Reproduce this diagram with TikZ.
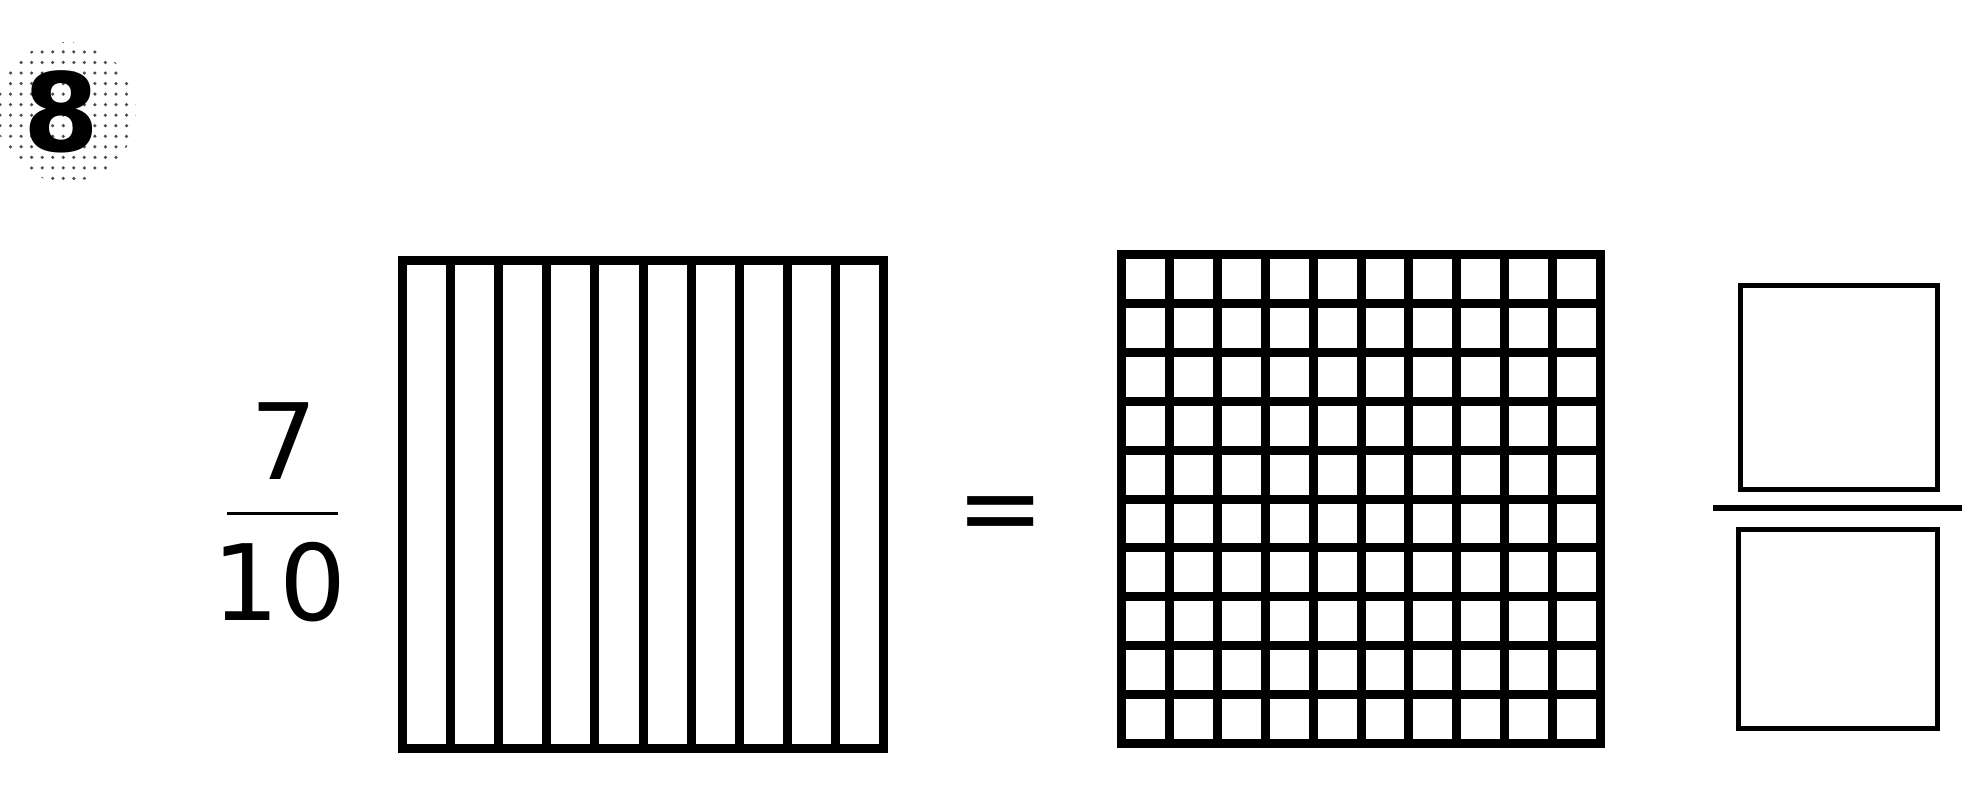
\documentclass[tikz,border=0pt]{standalone}
\usepackage{fontspec}
\setmainfont{DejaVu Sans}
\usepackage{tikz}
\usetikzlibrary{calc,patterns}

\begin{document}
\begin{tikzpicture}[
  every node/.style={inner sep=0pt, outer sep=0pt},
  digit/.style={font=\fontsize{30}{30}\selectfont},
  model/.style={draw, line width=0.09cm, minimum width=4.81cm, minimum height=4.88cm},
  answer/.style={draw, line width=0.05cm, minimum width=1.98cm, minimum height=2.02cm},
  divline/.style={line width=0.09cm}
]
\useasboundingbox (0,0) rectangle (19.82,7.9);

%% Question number with stippled disc
\node[circle, minimum size=1.4cm, pattern=dots, pattern color=black!70] (badge) at (0.66,6.78) {};
\node[font=\fontsize{31}{31}\selectfont\bfseries] (qnum) at (0.61,6.78) {8};

%% Fraction 7/10
\node[digit] (num) at (2.84,3.49) {7};
\node[digit] (den) at (2.80,2.08) {10};
\coordinate (barl) at (2.27,2.77);
\coordinate (barr) at (3.38,2.77);
\draw[line width=0.03cm] (barl) -- (barr);

%% Tenths model: square cut in 10 strips
\node[model] (tenths) at (6.43,2.855) {};
\foreach \i in {1,...,9}
  \draw[divline] ($(tenths.north west)!\i/10!(tenths.north east)$)
              -- ($(tenths.south west)!\i/10!(tenths.south east)$);

%% Equals sign
\node[digit] (eq) at (10.01,2.69) {=};

%% Hundredths model: 10 by 10 grid
\node[model, minimum width=4.79cm, minimum height=4.89cm] (hundredths) at (13.61,2.91) {};
\foreach \i in {1,...,9} {
  \draw[divline] ($(hundredths.north west)!\i/10!(hundredths.north east)$)
              -- ($(hundredths.south west)!\i/10!(hundredths.south east)$);
  \draw[divline] ($(hundredths.north west)!\i/10!(hundredths.south west)$)
              -- ($(hundredths.north east)!\i/10!(hundredths.south east)$);
}

%% Answer boxes
\node[answer, minimum width=1.97cm, minimum height=2.04cm] (top) at (18.39,4.025) {};
\node[answer, minimum width=1.99cm, minimum height=1.99cm] (bottom) at (18.38,1.61) {};
\coordinate (ansl) at (17.13,2.82);
\coordinate (ansr) at (19.62,2.82);
\draw[line width=0.055cm] (ansl) -- (ansr);

\end{tikzpicture}
\end{document}
